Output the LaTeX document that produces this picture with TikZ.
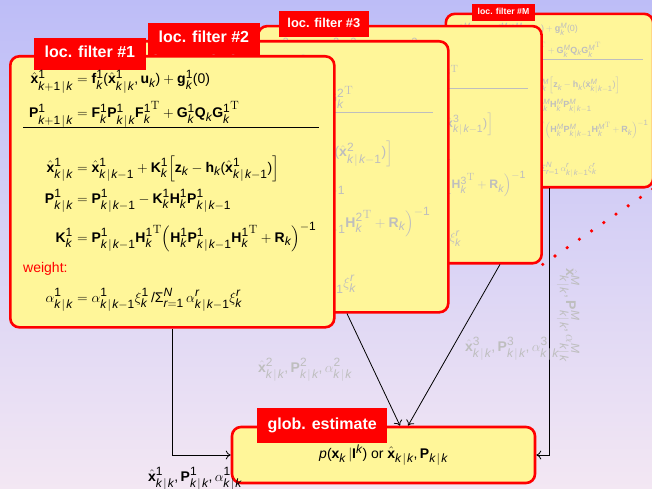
\RequirePackage{fix-cm}
\documentclass[tikz,border=0pt]{standalone}
\usetikzlibrary{arrows.meta}
\usepackage{exscale}
\usepackage[no-math]{fontspec}
\setsansfont{Liberation Sans}
\newfontfamily\lsans{Liberation Sans}[NFSSFamily=lsans]
\DeclareSymbolFont{sfop}{TU}{lsans}{m}{n}
\DeclareSymbolFont{sfit}{TU}{lsans}{m}{it}
\DeclareMathAlphabet{\mathbf}{TU}{lsans}{bx}{n}
\DeclareMathSymbol{k}{\mathalpha}{sfit}{`k}
\DeclareMathSymbol{r}{\mathalpha}{sfit}{`r}
\DeclareMathSymbol{p}{\mathalpha}{sfit}{`p}
\DeclareMathSymbol{N}{\mathalpha}{sfit}{`N}
\DeclareMathSymbol{M}{\mathalpha}{sfit}{`M}
\DeclareMathSymbol{0}{\mathalpha}{sfop}{`0}
\DeclareMathSymbol{1}{\mathalpha}{sfop}{`1}
\DeclareMathSymbol{2}{\mathalpha}{sfop}{`2}
\DeclareMathSymbol{3}{\mathalpha}{sfop}{`3}
\DeclareMathSymbol{(}{\mathopen}{sfop}{`(}
\DeclareMathSymbol{)}{\mathclose}{sfop}{`)}
\DeclareMathSymbol{,}{\mathpunct}{sfop}{`,}
\DeclareMathSymbol{/}{\mathord}{sfop}{`/}
\DeclareMathSizes{14}{14}{12}{9}
\newcommand\gv{\mkern2mu|\mkern2mu}

\definecolor{bgtop}{RGB}{189,189,247}
\definecolor{bgbot}{RGB}{243,231,243}
\definecolor{boxfill}{RGB}{255,246,153}
\definecolor{fade}{RGB}{190,190,190}
\definecolor{fadered}{RGB}{255,170,150}

\tikzset{
  fbox/.style={draw=red, fill=boxfill, line width=2.6pt, rounded corners=9pt,
    minimum width=324pt, minimum height=271pt, inner sep=0pt},
  gbox/.style={draw=red, fill=boxfill, line width=2.6pt, rounded corners=9pt,
    minimum width=303pt, minimum height=56pt, inner sep=0pt},
  flabel/.style={fill=red, text=white, font=\sffamily\bfseries\fontsize{16}{19}\selectfont,
    inner xsep=10.5pt, inner ysep=0pt, text height=11.5pt, text depth=3.5pt,
    minimum height=32pt},
  eqL/.style={anchor=base east, inner sep=0pt},
  eqR/.style={anchor=base west, inner sep=0pt},
  txt/.style={anchor=base west, inner sep=0pt},
  conn/.style={-{To[length=5pt,width=9pt]}, line width=0.8pt},
  dotline/.style={red, line width=3.6pt, line cap=round, dash pattern=on 0pt off 14.8pt}
}

% #1 index, #2 text colour, #3 label x offset, #4 weight colour, #5 label scale
\newcommand\filterbox[5]{%
  \node[fbox, anchor=north west] (box#1) at (0,0) {};
  \node[flabel, anchor=west, scale=#5] (lab#1) at (#3,-1) {loc. filter \##1};
  \node[eqL, text=#2] (e1l#1) at (64,29) {$\hat{\mathbf{x}}^{#1}_{k+1\gv k}$};
  \node[eqR, text=#2] (e1r#1) at (64,29) {${}=\mathbf{f}^{#1}_k(\hat{\mathbf{x}}^{#1}_{k\gv k},\mathbf{u}_k)+\mathbf{g}^{#1}_k(0)$};
  \node[eqL, text=#2] (e2l#1) at (64,63) {$\mathbf{P}^{#1}_{k+1\gv k}$};
  \node[eqR, text=#2] (e2r#1) at (64,63) {${}=\mathbf{F}^{#1}_k\mathbf{P}^{#1}_{k\gv k}{\mathbf{F}^{#1}_k}^{\mathrm{T}}+\mathbf{G}^{#1}_k\mathbf{Q}_k{\mathbf{G}^{#1}_k}^{\mathrm{T}}$};
  \draw[draw=#2, line width=0.8pt] (14,72) -- (310,72);
  \node[eqL, text=#2] (e3l#1) at (64,117) {$\hat{\mathbf{x}}^{#1}_{k\gv k}$};
  \node[eqR, text=#2] (e3r#1) at (64,117) {${}=\hat{\mathbf{x}}^{#1}_{k\gv k-1}+\mathbf{K}^{#1}_k\Bigl[\mathbf{z}_k-\mathbf{h}_k(\hat{\mathbf{x}}^{#1}_{k\gv k-1})\Bigr]$};
  \node[eqL, text=#2] (e4l#1) at (64,148) {$\mathbf{P}^{#1}_{k\gv k}$};
  \node[eqR, text=#2] (e4r#1) at (64,148) {${}=\mathbf{P}^{#1}_{k\gv k-1}-\mathbf{K}^{#1}_k\mathbf{H}^{#1}_k\mathbf{P}^{#1}_{k\gv k-1}$};
  \node[eqL, text=#2] (e5l#1) at (64,187) {$\mathbf{K}^{#1}_k$};
  \node[eqR, text=#2] (e5r#1) at (64,187) {${}=\mathbf{P}^{#1}_{k\gv k-1}{\mathbf{H}^{#1}_k}^{\mathrm{T}}\Bigl(\mathbf{H}^{#1}_k\mathbf{P}^{#1}_{k\gv k-1}{\mathbf{H}^{#1}_k}^{\mathrm{T}}+\mathbf{R}_k\Bigr)^{-1}$};
  \node[txt, text=#4] (w#1) at (14,217) {weight:};
  \node[eqL, text=#2] (e6l#1) at (64,247) {$\alpha^{#1}_{k\gv k}$};
  \node[eqR, text=#2] (e6r#1) at (64,247) {${}=\alpha^{#1}_{k\gv k-1}\xi^{#1}_k\,/\textsf{Σ}^N_{r=1}\,\alpha^r_{k\gv k-1}\xi^r_k$};
}

\begin{document}
\begin{tikzpicture}[x=1pt, y=-1pt, every node/.style={font=\sffamily\fontsize{14}{17}\selectfont}]
\useasboundingbox (0,0) rectangle (652,489);
\clip (0,0) rectangle (652,489);
\fill[top color=bgtop, bottom color=bgbot] (0,0) rectangle (652,489);

\begin{scope}[shift={(445,13)}, scale=0.64, transform shape]
  \filterbox{M}{fade}{42}{fadered}{0.85}
\end{scope}
\begin{scope}[shift={(257,25)}, scale=0.875, transform shape]
  \filterbox{3}{fade}{25}{fadered}{0.92}
\end{scope}
\begin{scope}[shift={(123,40)}]
  \filterbox{2}{fade}{25}{fadered}{1}
\end{scope}
\begin{scope}[shift={(9,55)}]
  \filterbox{1}{black}{25}{red}{1}
\end{scope}

\draw[dotline] (box3.south east) -- (boxM.south east);

\node[gbox] (glob) at (383.5,455) {$p(\mathbf{x}_k\,|\mathbf{I}^k)$ or $\hat{\mathbf{x}}_{k\gv k},\mathbf{P}_{k\gv k}$};
\node[flabel, anchor=west, minimum height=35pt] (glab) at (257,425.5) {glob. estimate};

\coordinate (c1) at (172,0);
\coordinate (c2) at (347,0);
\coordinate (c2e) at (400,0);
\coordinate (c3) at (500,0);
\coordinate (c3e) at (408,0);
\coordinate (cM) at (549,0);

\draw[conn] (c1 |- box1.south) |- (glob.west);
\draw[conn] (c2 |- box2.south) -- (c2e |- glob.north);
\draw[conn] (c3 |- box3.south) -- (c3e |- glob.north);
\draw[conn] (cM |- boxM.south) |- (glob.east);

\node[txt] (o1) at (148,481) {$\hat{\mathbf{x}}^1_{k\gv k},\mathbf{P}^1_{k\gv k},\alpha^1_{k\gv k}$};
\node[txt, text=fade] (o2) at (258,372) {$\hat{\mathbf{x}}^2_{k\gv k},\mathbf{P}^2_{k\gv k},\alpha^2_{k\gv k}$};
\node[txt, text=fade] (o3) at (465,351) {$\hat{\mathbf{x}}^3_{k\gv k},\mathbf{P}^3_{k\gv k},\alpha^3_{k\gv k}$};
\node[txt, text=fade, rotate=-90] (oM) at (566,268) {$\hat{\mathbf{x}}^M_{k\gv k},\mathbf{P}^M_{k\gv k},\alpha^M_{k\gv k}$};
\end{tikzpicture}
\end{document}
